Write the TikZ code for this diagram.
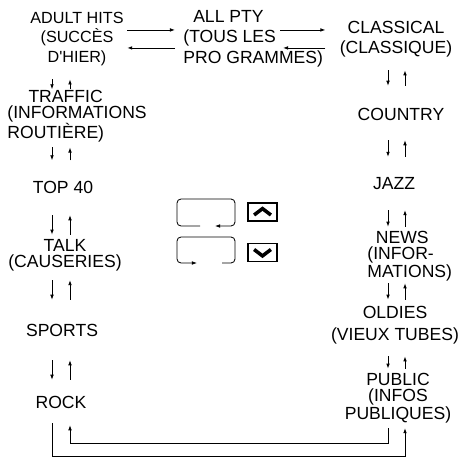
\documentclass[tikz,border=0pt]{standalone}
\usepackage{fontspec}
\setmainfont{Liberation Sans}
\usetikzlibrary{arrows.meta}
\tikzset{
  >={Latex[length=3.6pt,width=2.6pt]},
  lbl/.style={inner sep=0pt,align=center,font=\fontsize{12.5}{#1}\selectfont},
  lbl/.default=15pt,
  btn/.style={draw,line width=1.4pt,minimum width=0.725cm,minimum height=0.45cm,inner sep=0pt},
  chev/.style={line width=2.5pt,miter limit=10}
}
\begin{document}
\begin{tikzpicture}[line width=0.6pt]
    \useasboundingbox (0,0) rectangle (11.575,-11.55);
    % columns of the up/down arrows
    \coordinate (dnL) at (1.3,0);\coordinate (upL) at (1.75,0);
    \coordinate (dnR) at (9.7,0);\coordinate (upR) at (10.125,0);
    \coordinate (loopin) at (0,-11.075);\coordinate (loopout) at (0,-11.4);
    % left column
    \node[lbl,font=\fontsize{11.5}{14}\selectfont] (adult) at (1.925,-0.969) {ADULT HITS\\(SUCCÈS\\D\textquotesingle HIER)};
    \node[lbl=11pt,align=left,anchor=west] (traffic) at (0.175,-2.91) {\hspace*{15pt}TRAFFIC\\(INFORMATIONS\\ROUTIÈRE)};
    \node[lbl] (top40) at (1.575,-4.675) {TOP 40};
    \node[lbl=11.4pt] (talk) at (1.625,-6.375) {TALK\\(CAUSERIES)};
    \node[lbl] (sports) at (1.55,-8.25) {SPORTS};
    \node[lbl] (rock) at (1.525,-10.05) {ROCK};
    % top middle
    \node[lbl=14.6pt,align=left,anchor=west] (allpty) at (4.575,-0.969) {\hspace*{7pt}ALL PTY\\(TOUS LES\\PRO GRAMMES)};
    % right column
    \node[lbl=14.2pt] (classical) at (9.9,-0.969) {CLASSICAL\\(CLASSIQUE)};
    \node[lbl] (country) at (10.025,-2.85) {COUNTRY};
    \node[lbl] (jazz) at (9.85,-4.6) {JAZZ};
    \node[lbl=11.4pt,align=left,anchor=west] (news) at (9.175,-6.4) {\hspace*{6pt}NEWS\\(INFOR-\\MATIONS)};
    \node[lbl=15.6pt] (oldies) at (9.875,-8.125) {OLDIES\\(VIEUX TUBES)};
    \node[lbl=11.5pt] (public) at (9.95,-9.95) {PUBLIC\\(INFOS\\PUBLIQUES)};
    % top arrows
    \draw[->,shorten <=0.08cm,shorten >=0.2cm]([yshift=0.22cm]adult.east) -- ([yshift=0.22cm]allpty.west);
    \draw[->,shorten <=0.2cm,shorten >=0.08cm]([yshift=-0.23cm]allpty.west) -- ([yshift=-0.23cm]adult.east);
    \draw[->,shorten >=0.35cm]([xshift=2.425cm,yshift=0.22cm]allpty.west) -- ([yshift=0.22cm]classical.west);
    \draw[->,shorten <=0.35cm]([yshift=-0.23cm]classical.west) -- ([xshift=2.5cm,yshift=-0.23cm]allpty.west);
    % left up/down arrows
    \draw[->,shorten <=0.33cm,shorten >=0.02cm](adult.south -| dnL) -- (traffic.north -| dnL);\draw[->,shorten <=0.02cm,shorten >=0.33cm](traffic.north -| upL) -- (adult.south -| upL);
    \draw[->,shorten <=0.12cm,shorten >=0.5cm](traffic.south -| dnL) -- (top40.north -| dnL);\draw[->,shorten <=0.5cm,shorten >=0.12cm](top40.north -| upL) -- (traffic.south -| upL);
    \draw[->,shorten <=0.54cm,shorten >=0.1cm](top40.south -| dnL) -- (talk.north -| dnL);\draw[->,shorten <=0.1cm,shorten >=0.54cm](talk.north -| upL) -- (top40.south -| upL);
    \draw[->,shorten <=0.22cm,shorten >=0.59cm](talk.south -| dnL) -- (sports.north -| dnL);\draw[->,shorten <=0.59cm,shorten >=0.22cm](sports.north -| upL) -- (talk.south -| upL);
    \draw[->,shorten <=0.59cm,shorten >=0.39cm](sports.south -| dnL) -- (rock.north -| dnL);\draw[->,shorten <=0.39cm,shorten >=0.59cm](rock.north -| upL) -- (sports.south -| upL);
    % right up/down arrows
    \draw[->,shorten <=0.33cm,shorten >=0.54cm](classical.south -| dnR) -- (country.north -| dnR);\draw[->,shorten <=0.54cm,shorten >=0.33cm](country.north -| upR) -- (classical.south -| upR);
    \draw[->,shorten <=0.49cm,shorten >=0.515cm](country.south -| dnR) -- (jazz.north -| dnR);\draw[->,shorten <=0.515cm,shorten >=0.49cm](jazz.north -| upR) -- (country.south -| upR);
    \draw[->,shorten <=0.49cm,shorten >=0.1cm](jazz.south -| dnR) -- (news.north -| dnR);\draw[->,shorten <=0.1cm,shorten >=0.49cm](news.north -| upR) -- (jazz.south -| upR);
    \draw[->,shorten <=0.05cm,shorten >=0.15cm](news.south -| dnR) -- (oldies.north -| dnR);\draw[->,shorten <=0.15cm,shorten >=0.05cm](oldies.north -| upR) -- (news.south -| upR);
    \draw[->,shorten <=0.3cm,shorten >=0.1cm](oldies.south -| dnR) -- (public.north -| dnR);\draw[->,shorten <=0.1cm,shorten >=0.3cm](public.north -| upR) -- (oldies.south -| upR);
    % wrap around at the bottom
    \draw[->,shorten <=0.365cm,shorten >=0.12cm](rock.south -| dnL) -- (dnL |- loopout) -| (public.south -| upR);
    \draw[->,shorten <=0.12cm,shorten >=0.415cm](public.south -| dnR) -- (dnR |- loopin) -| (rock.south -| upL);
    % loop icons and buttons
    \draw[->,rounded corners=0.1cm](5,-5.65) -- (4.425,-5.65) -- (4.425,-4.975) -- (5.875,-4.975) -- (5.875,-5.65) -- (5.375,-5.65);
    \draw[->,rounded corners=0.1cm](5.55,-6.575) -- (5.875,-6.575) -- (5.875,-5.925) -- (4.425,-5.925) -- (4.425,-6.575) -- (4.925,-6.575);
    \node[btn] (upbtn) at (6.5625,-5.3) {};
    \node[btn] (dnbtn) at (6.5625,-6.3125) {};
    \draw[chev]([shift={(-0.21,-0.075)}]upbtn.center) -- ++(0.21,0.16) -- ++(0.21,-0.16);
    \draw[chev]([shift={(-0.21,0.075)}]dnbtn.center) -- ++(0.21,-0.16) -- ++(0.21,0.16);
\end{tikzpicture}
\end{document}
